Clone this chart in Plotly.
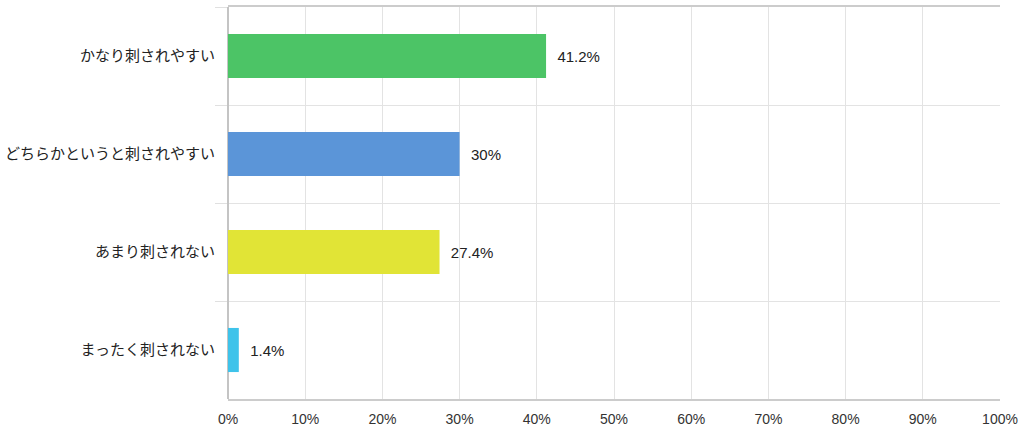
import plotly.graph_objects as go

# datos
categorias = ['かなり刺されやすい', 'どちらかというと刺されやすい', 'あまり刺されない', 'まったく刺されない']
porcentajes = [41.2, 30, 27.4, 1.4]
colores = ['#4cc466', '#5b95d8', '#e1e436', '#3ec3ea']
ticks_x = [0, 10, 20, 30, 40, 50, 60, 70, 80, 90, 100]

fuente = 'Liberation Sans, Arial, Noto Sans CJK JP'

fig = go.Figure()

fig.add_trace(
    go.Bar(
        y=categorias,
        x=porcentajes,
        orientation='h',
        marker=dict(color=colores, line=dict(width=0)),
        text=['\u00a0\u00a0' + f'{v:g}%' for v in porcentajes],
        textposition='outside',
        textfont=dict(size=15, color='#222222', family=fuente),
        cliponaxis=False,
        width=0.45,
    )
)

fig.update_layout(
    width=1024,
    height=438,
    margin=dict(l=228, r=24, t=7, b=39),
    plot_bgcolor='white',
    paper_bgcolor='white',
    showlegend=False,
    font=dict(family=fuente, color='#333333'),
    bargap=0.55,
)

fig.update_xaxes(
    automargin=False,
    range=[0, 100],
    tickvals=ticks_x,
    ticktext=[f'{t}%' for t in ticks_x],
    tickfont=dict(size=14, color='#333333'),
    showgrid=True,
    gridcolor='#e3e3e3',
    gridwidth=1,
    showline=True,
    linecolor='#cccccc',
    linewidth=2,
    mirror=True,
    zeroline=True,
    zerolinecolor='#c4c4c4',
    zerolinewidth=2,
    ticks='',
    ticklabelstandoff=6,
)

fig.update_yaxes(
    automargin=False,
    autorange='reversed',
    tickson='boundaries',
    ticks='outside',
    ticklen=12,
    tickcolor='#e0e0e0',
    tickfont=dict(size=15, color='#222222'),
    ticklabelstandoff=12,
    showgrid=True,
    gridcolor='#e3e3e3',
    gridwidth=1,
    showline=False,
)

# quitar el margen por defecto del body para que el gráfico quede en (0, 0)
fig.write_html(
    'out.html',
    config={'displayModeBar': False},
    post_script="document.body.style.margin='0px';",
)
